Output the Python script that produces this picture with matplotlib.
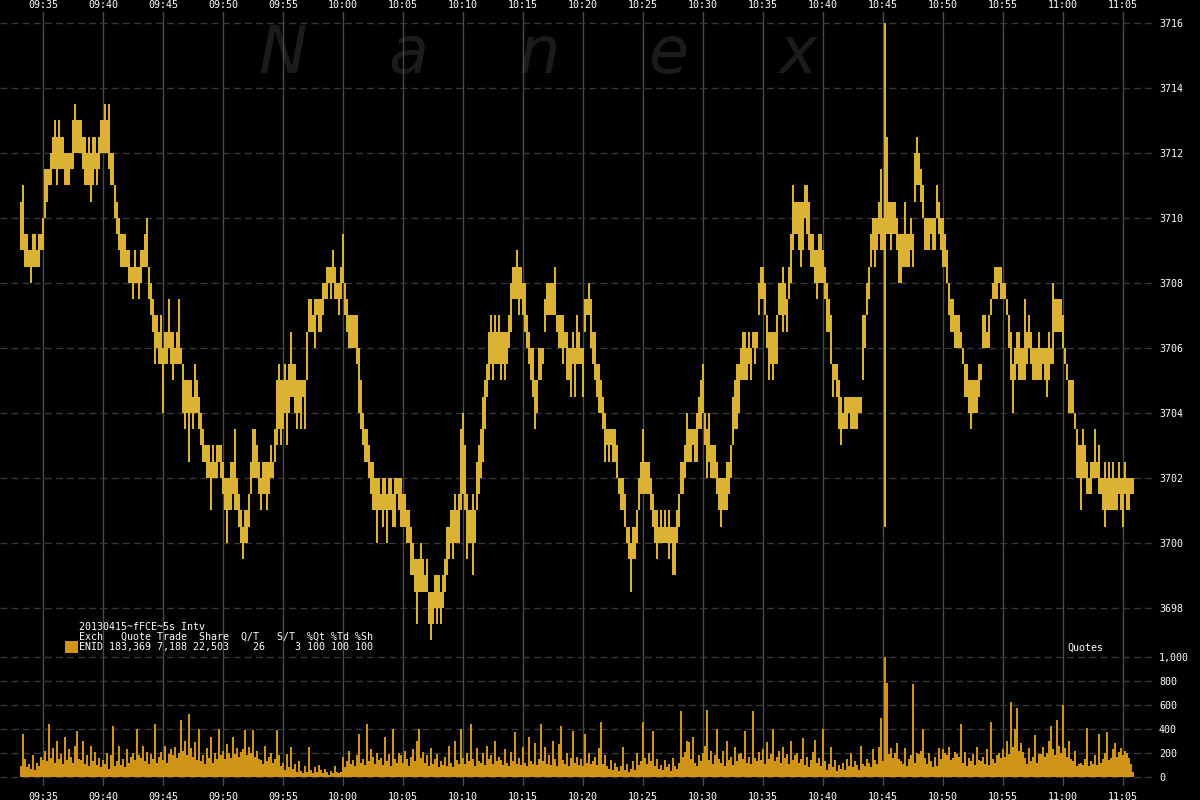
import matplotlib
matplotlib.use("Agg")
import matplotlib.pyplot as plt
from matplotlib.patches import Rectangle
import numpy as np

# ---------------- data (10-second bars starting 09:33:05) ----------------
start_time = "09:33:05"
bar_seconds = 10

price_low = [
    3709, 3709, 3708.5, 3708.5, 3708.5, 3708, 3708.5, 3708.5, 3708.5, 3708.5,
    3709, 3709, 3710, 3710.5, 3711, 3711, 3711.5, 3711.5, 3711, 3711.5,
    3711.5, 3711.5, 3711, 3711, 3711, 3711.5, 3711.5, 3712, 3712, 3712,
    3712, 3711.5, 3711, 3711, 3711, 3710.5, 3711, 3711.5, 3711, 3711.5,
    3712, 3712, 3712, 3712, 3711.5, 3711, 3711, 3710, 3709.5, 3709,
    3708.5, 3708.5, 3708.5, 3708.5, 3708, 3708, 3707.5, 3708, 3708, 3707.5,
    3708, 3708.5, 3708.5, 3708.5, 3707.5, 3707, 3706.5, 3705.5, 3706, 3705.5,
    3705.5, 3704, 3705.5, 3705.5, 3706, 3705.5, 3705, 3705.5, 3705.5, 3705.5,
    3705.5, 3704, 3703.5, 3704, 3702.5, 3704, 3703.5, 3704, 3704, 3703.5,
    3703, 3702.5, 3702.5, 3702, 3702, 3701, 3702, 3702, 3702, 3702.5,
    3702, 3701.5, 3701, 3700, 3701, 3701, 3701.5, 3701, 3701, 3700.5,
    3700, 3699.5, 3700, 3700, 3700.5, 3701.5, 3702, 3702, 3702, 3701.5,
    3701, 3701.5, 3701.5, 3701, 3701.5, 3702, 3702, 3702.5, 3703, 3703.5,
    3703, 3703.5, 3704, 3703, 3704, 3704.5, 3704.5, 3704, 3703.5, 3704,
    3703.5, 3704.5, 3703.5, 3705, 3706.5, 3706.5, 3706.5, 3706, 3707, 3706.5,
    3706.5, 3707, 3707.5, 3707.5, 3708, 3707.5, 3708, 3707.5, 3707.5, 3707,
    3707.5, 3708, 3707, 3706.5, 3706, 3706, 3706, 3706, 3705.5, 3704,
    3703.5, 3703, 3702.5, 3702.5, 3702, 3701.5, 3701, 3701, 3700, 3701,
    3701, 3700.5, 3701, 3700, 3701, 3701, 3700.5, 3700.5, 3701.5, 3701,
    3700.5, 3700.5, 3700.5, 3700, 3700, 3699, 3699, 3698.5, 3697.5, 3698.5,
    3698.5, 3698.5, 3698.5, 3698.5, 3697.5, 3697, 3697.5, 3698, 3697.5, 3698,
    3697.5, 3698, 3698.5, 3699, 3699.5, 3700, 3699.5, 3700, 3700, 3700,
    3701, 3701.5, 3701, 3699.5, 3700, 3700, 3699, 3700, 3701, 3701.5,
    3702, 3702.5, 3703.5, 3704.5, 3705, 3705.5, 3705, 3705.5, 3705.5, 3705.5,
    3705, 3705.5, 3705, 3705.5, 3706, 3706.5, 3707.5, 3707.5, 3707.5, 3707,
    3707.5, 3707, 3706.5, 3706, 3705.5, 3705, 3704.5, 3703.5, 3704, 3705,
    3705, 3705.5, 3706.5, 3707, 3707, 3707, 3707, 3707, 3706.5, 3706,
    3706, 3705.5, 3706, 3705, 3705, 3704.5, 3705.5, 3704.5, 3705.5, 3705.5,
    3705.5, 3704.5, 3706.5, 3707, 3707, 3706, 3705.5, 3705, 3704.5, 3704,
    3704, 3703.5, 3702.5, 3703, 3702.5, 3703, 3702.5, 3702.5, 3702, 3701.5,
    3701, 3701, 3700.5, 3700, 3699.5, 3698.5, 3699.5, 3699.5, 3700, 3701,
    3701.5, 3701.5, 3701.5, 3701.5, 3701.5, 3701, 3700.5, 3700, 3699.5, 3700,
    3700, 3700, 3700, 3700, 3699.5, 3700, 3699, 3699, 3700, 3700.5,
    3701.5, 3701.5, 3702, 3702.5, 3702.5, 3702.5, 3703, 3702.5, 3702.5, 3703.5,
    3703.5, 3704, 3703, 3702, 3702.5, 3702, 3702, 3702, 3701.5, 3701,
    3700.5, 3701, 3701, 3701, 3701.5, 3702, 3703, 3703.5, 3703.5, 3704,
    3705, 3705, 3705, 3705, 3705.5, 3705, 3706, 3705.5, 3706, 3707,
    3707.5, 3707.5, 3707, 3706, 3705, 3705.5, 3705, 3705.5, 3705.5, 3707,
    3707, 3706.5, 3707, 3706.5, 3707.5, 3708, 3709, 3709.5, 3709.5, 3709,
    3708.5, 3709, 3710, 3709.5, 3709, 3708.5, 3708.5, 3708, 3707.5, 3708,
    3708, 3708, 3707.5, 3706.5, 3706.5, 3705.5, 3704.5, 3705, 3704.5, 3703.5,
    3703, 3703.5, 3703.5, 3703.5, 3704, 3703.5, 3703.5, 3703.5, 3703.5, 3704,
    3704, 3705, 3706, 3707, 3707.5, 3708.5, 3709, 3708.5, 3709, 3709.5,
    3709, 3709, 3700.5, 3709.5, 3709.5, 3709, 3709.5, 3709.5, 3709, 3708,
    3708, 3708.5, 3708.5, 3708.5, 3708.5, 3709, 3708.5, 3710.5, 3711, 3711,
    3710.5, 3710, 3709, 3709, 3709, 3709.5, 3709, 3709, 3710, 3709.5,
    3709, 3708.5, 3708.5, 3708, 3707, 3706.5, 3706.5, 3706, 3706, 3706,
    3706, 3705.5, 3704.5, 3704.5, 3704, 3703.5, 3704, 3704, 3704, 3704.5,
    3705, 3706, 3706, 3706, 3706, 3707, 3707.5, 3707.5, 3707.5, 3708,
    3707.5, 3707.5, 3707.5, 3707, 3706, 3705, 3704, 3705, 3705.5, 3705,
    3705, 3705, 3705, 3705.5, 3706, 3705.5, 3705, 3705, 3705, 3705,
    3705, 3705.5, 3705, 3704.5, 3705, 3705.5, 3705.5, 3706.5, 3706.5, 3706.5,
    3706.5, 3706, 3705.5, 3705, 3704, 3704, 3704, 3703.5, 3702, 3702,
    3701, 3702, 3702, 3701.5, 3701.5, 3701.5, 3702, 3702, 3702, 3701.5,
    3701.5, 3701, 3700.5, 3701, 3701, 3701, 3701, 3701, 3701, 3701.5,
    3701, 3700.5, 3701.5, 3701, 3701, 3701.5, 3701.5,
]

price_high = [
    3710.5, 3711, 3709.5, 3709.5, 3709, 3709, 3709.5, 3709.5, 3709, 3709.5,
    3709.5, 3710, 3711.5, 3711.5, 3711.5, 3712, 3712.5, 3713, 3712.5, 3713,
    3712.5, 3712.5, 3712, 3712, 3712, 3712, 3713, 3713.5, 3713, 3713,
    3713, 3712.5, 3712.5, 3712, 3712.5, 3712, 3712.5, 3712.5, 3712, 3712.5,
    3713, 3713, 3713.5, 3713, 3713.5, 3712, 3712, 3711, 3710.5, 3710,
    3709.5, 3709.5, 3709.5, 3709, 3709, 3708.5, 3708.5, 3709, 3708.5, 3708.5,
    3709, 3709, 3709.5, 3710, 3708.5, 3708, 3707.5, 3707, 3707, 3706.5,
    3707, 3706, 3706.5, 3706.5, 3707.5, 3706.5, 3706.5, 3706, 3706.5, 3707.5,
    3706, 3705.5, 3705, 3705, 3705, 3705, 3704.5, 3705.5, 3705, 3704.5,
    3704, 3703.5, 3703, 3703, 3703, 3702.5, 3703, 3702.5, 3703, 3703,
    3703, 3702.5, 3702, 3702, 3702, 3702.5, 3702.5, 3703.5, 3702, 3701.5,
    3701, 3700.5, 3701, 3701, 3701.5, 3702.5, 3703.5, 3703.5, 3703, 3702.5,
    3702, 3702.5, 3702.5, 3702.5, 3702.5, 3703, 3702.5, 3703.5, 3705, 3705.5,
    3705, 3705, 3705.5, 3705, 3705.5, 3706.5, 3705.5, 3705.5, 3705, 3705,
    3705, 3705, 3705, 3706.5, 3707.5, 3707.5, 3707, 3707.5, 3707.5, 3707.5,
    3707.5, 3708, 3708, 3708.5, 3708.5, 3708.5, 3709, 3708.5, 3708, 3708,
    3708.5, 3709.5, 3708, 3707.5, 3707, 3707, 3707, 3707, 3707, 3706,
    3705, 3704, 3703.5, 3703.5, 3703, 3702.5, 3702.5, 3702, 3702, 3702,
    3701.5, 3702, 3702, 3701.5, 3702, 3702, 3701.5, 3702, 3702, 3702,
    3702, 3701.5, 3701.5, 3701, 3701, 3700.5, 3700, 3699.5, 3699.5, 3699.5,
    3700, 3699.5, 3699, 3699.5, 3698.5, 3698.5, 3698.5, 3699, 3699, 3699,
    3698.5, 3699, 3699.5, 3700.5, 3700.5, 3701, 3701, 3701.5, 3701, 3701.5,
    3703.5, 3704, 3703, 3701.5, 3701, 3701, 3701.5, 3701, 3702.5, 3703,
    3703.5, 3704.5, 3705, 3705.5, 3706.5, 3707, 3706.5, 3707, 3706.5, 3707,
    3706.5, 3706.5, 3706.5, 3706.5, 3707, 3708, 3708.5, 3708.5, 3709, 3708.5,
    3708.5, 3708, 3708, 3707, 3706.5, 3706, 3706, 3705, 3705, 3706,
    3706, 3706, 3707.5, 3708, 3708, 3708, 3708, 3708.5, 3707, 3707,
    3707, 3707, 3706.5, 3706.5, 3706, 3706, 3706.5, 3706, 3707, 3706.5,
    3706, 3706, 3707.5, 3707.5, 3708, 3707.5, 3706.5, 3706.5, 3705.5, 3705.5,
    3705, 3704.5, 3704, 3703.5, 3703.5, 3703.5, 3703.5, 3703.5, 3703, 3702,
    3702, 3702, 3701.5, 3700.5, 3700.5, 3700, 3700.5, 3700.5, 3701, 3702,
    3702.5, 3703.5, 3702.5, 3702.5, 3702.5, 3702, 3701.5, 3701, 3701, 3700.5,
    3701, 3700.5, 3701, 3700.5, 3701, 3700.5, 3700.5, 3700.5, 3701, 3701.5,
    3702.5, 3702.5, 3703, 3704, 3703.5, 3703.5, 3703.5, 3703.5, 3704, 3704.5,
    3705, 3705.5, 3704, 3703.5, 3704, 3703, 3703, 3703, 3702.5, 3702,
    3702, 3702, 3702, 3702.5, 3702.5, 3703, 3704.5, 3705, 3705.5, 3705.5,
    3706, 3706.5, 3706.5, 3706, 3706.5, 3706, 3706.5, 3706.5, 3706.5, 3708,
    3708.5, 3708.5, 3708, 3707, 3706.5, 3706.5, 3706.5, 3706.5, 3707, 3708,
    3708, 3708.5, 3708, 3707.5, 3708.5, 3709.5, 3711, 3710.5, 3710.5, 3710.5,
    3710.5, 3710.5, 3711, 3711, 3710.5, 3709.5, 3709.5, 3709, 3709, 3709.5,
    3709.5, 3709, 3708.5, 3708, 3707.5, 3707, 3705.5, 3705.5, 3705.5, 3705,
    3704.5, 3704, 3704.5, 3704.5, 3704.5, 3704.5, 3704.5, 3704.5, 3704.5, 3704.5,
    3704.5, 3707, 3707, 3708, 3708.5, 3709.5, 3710, 3710, 3710, 3710.5,
    3711.5, 3710, 3716, 3712.5, 3710.5, 3710.5, 3710.5, 3710.5, 3710, 3709.5,
    3709.5, 3709.5, 3710.5, 3709.5, 3709.5, 3710, 3709.5, 3712, 3712.5, 3712,
    3711.5, 3711, 3710, 3710, 3710, 3710, 3710, 3710, 3711, 3710.5,
    3710, 3710, 3709.5, 3709, 3708, 3707.5, 3707.5, 3707, 3707, 3707,
    3706.5, 3706, 3705.5, 3705.5, 3705, 3705, 3705, 3705, 3705, 3705.5,
    3705.5, 3707, 3707, 3706.5, 3707, 3707.5, 3708, 3708.5, 3708.5, 3708.5,
    3708.5, 3708, 3708, 3707.5, 3707, 3706.5, 3705.5, 3706, 3706.5, 3706.5,
    3706, 3706, 3707.5, 3706.5, 3707, 3706.5, 3706, 3706, 3706, 3706.5,
    3706, 3706, 3706, 3706, 3706.5, 3706, 3708, 3707.5, 3707.5, 3707.5,
    3707.5, 3707, 3706, 3705.5, 3705, 3705, 3705, 3704, 3703.5, 3703,
    3703, 3703.5, 3703, 3702.5, 3702, 3702.5, 3702.5, 3703.5, 3702.5, 3703,
    3702, 3702, 3702.5, 3702, 3702.5, 3702, 3702.5, 3702, 3702, 3702.5,
    3702, 3702, 3702.5, 3702, 3702, 3702, 3702,
]

quotes = [
    90, 360, 150, 80, 110, 70, 180, 60, 120, 90,
    170, 140, 220, 130, 440, 160, 240, 120, 300, 150,
    190, 110, 330, 140, 230, 170, 120, 260, 380, 150,
    140, 300, 110, 180, 90, 260, 130, 210, 100, 160,
    80, 140, 110, 200, 70, 180, 420, 90, 130, 260,
    100, 150, 80, 230, 120, 170, 200, 140, 400, 180,
    160, 260, 130, 210, 110, 190, 150, 440, 120, 170,
    210, 140, 260, 120, 190, 230, 180, 250, 160, 200,
    470, 220, 300, 180, 520, 240, 170, 290, 140, 400,
    130, 180, 110, 240, 160, 330, 120, 200, 150, 400,
    180, 220, 150, 270, 200, 160, 330, 190, 240, 170,
    210, 230, 390, 180, 250, 200, 390, 170, 220, 150,
    140, 110, 260, 130, 170, 200, 120, 150, 390, 180,
    90, 120, 60, 190, 80, 250, 70, 110, 40, 130,
    50, 30, 90, 40, 250, 60, 30, 80, 40, 100,
    60, 30, 70, 40, 20, 50, 30, 90, 40, 30,
    40, 170, 80, 130, 220, 110, 140, 90, 180, 360,
    120, 150, 100, 440, 130, 230, 170, 110, 200, 140,
    160, 100, 330, 130, 190, 90, 400, 150, 120, 200,
    180, 120, 220, 150, 90, 170, 230, 130, 300, 400,
    160, 210, 120, 180, 90, 240, 110, 150, 190, 80,
    130, 100, 170, 90, 260, 120, 80, 300, 140, 110,
    400, 160, 110, 200, 130, 440, 150, 90, 240, 130,
    120, 200, 100, 260, 150, 180, 110, 300, 130, 170,
    140, 100, 230, 120, 90, 210, 130, 370, 110, 160,
    100, 250, 120, 90, 330, 130, 110, 280, 100, 150,
    440, 130, 250, 110, 180, 100, 300, 150, 90, 270,
    420, 140, 110, 200, 90, 160, 380, 120, 170, 100,
    150, 90, 360, 120, 200, 110, 130, 170, 100, 240,
    460, 110, 180, 90, 70, 140, 60, 120, 80, 50,
    90, 250, 60, 110, 40, 70, 130, 60, 200, 100,
    130, 460, 160, 110, 200, 130, 380, 90, 150, 70,
    100, 60, 140, 80, 110, 50, 160, 90, 70, 120,
    545, 170, 210, 300, 290, 150, 330, 120, 90, 180,
    130, 200, 260, 560, 140, 220, 110, 180, 400, 150,
    120, 220, 90, 300, 140, 170, 100, 250, 130, 190,
    200, 150, 380, 120, 170, 110, 545, 160, 130, 210,
    140, 230, 110, 290, 150, 190, 400, 130, 170, 220,
    120, 250, 160, 190, 110, 300, 140, 180, 200, 120,
    150, 320, 100, 170, 80, 140, 210, 310, 120, 160,
    90, 400, 130, 60, 110, 250, 80, 140, 50, 100,
    70, 120, 60, 150, 90, 200, 80, 130, 100, 60,
    260, 110, 90, 150, 120, 80, 230, 140, 110, 250,
    490, 130, 1000, 780, 190, 240, 160, 200, 280, 150,
    130, 110, 240, 90, 150, 180, 770, 120, 200, 190,
    220, 400, 160, 110, 200, 130, 80, 170, 90, 240,
    150, 230, 200, 180, 250, 140, 160, 210, 190, 170,
    440, 120, 210, 90, 160, 130, 190, 100, 250, 140,
    130, 170, 110, 230, 100, 460, 150, 120, 180, 200,
    160, 230, 170, 300, 190, 620, 250, 400, 570, 220,
    280, 210, 160, 110, 240, 130, 170, 350, 120, 190,
    190, 250, 170, 200, 300, 420, 230, 180, 470, 260,
    200, 600, 240, 170, 300, 150, 130, 220, 90, 110,
    120, 100, 150, 410, 90, 130, 110, 180, 100, 360,
    120, 150, 200, 370, 140, 160, 230, 280, 170, 210,
    240, 180, 220, 200, 160, 110, 40,
]

time_tick_labels = ["09:35", "09:40", "09:45", "09:50", "09:55", "10:00", "10:05",
                    "10:10", "10:15", "10:20", "10:25", "10:30", "10:35", "10:40",
                    "10:45", "10:50", "10:55", "11:00", "11:05"]
price_ticks = [3698, 3700, 3702, 3704, 3706, 3708, 3710, 3712, 3714, 3716]
quote_ticks = [0, 200, 400, 600, 800, 1000]
quote_tick_labels = ["0", "200", "400", "600", "800", "1,000"]

title_line = "20130415~fFCE~5s Intv"
header_line = "Exch   Quote Trade  Share  Q/T   S/T  %Qt %Td %Sh"
row_line = "ENID 183,369 7,188 22,503    26     3 100 100 100"
watermark_letters = ["N", "a", "n", "e", "x"]

# ---------------- styling ----------------
PRICE_COLOR = "#DBB233"
VOL_COLOR = "#D09418"
VGRID = "#4b4b4b"
HGRID = "#383838"
WM_COLOR = "#1b1b1b"
MONO = "DejaVu Sans Mono"
FS = 7.2

plt.rcParams["font.family"] = MONO


def to_minutes(s):
    parts = [int(p) for p in s.split(":")]
    m = (parts[0] - 9) * 60 + parts[1]
    if len(parts) > 2:
        m += parts[2] / 60.0
    return m


W, H = 1200, 800


def rect(x0, y0, x1, y1):
    return [x0 / W, 1 - y1 / H, (x1 - x0) / W, (y1 - y0) / H]


fig = plt.figure(figsize=(12, 8), dpi=100, facecolor="black")
axp = fig.add_axes(rect(0, 12, 1152, 645))
axv = fig.add_axes(rect(0, 645, 1152, 786), sharex=axp)

t0 = to_minutes(start_time)
step = bar_seconds / 60.0
n = len(price_low)
times = t0 + np.arange(n) * step
lo = np.array(price_low, dtype=float)
hi = np.array(price_high, dtype=float)
vol = np.array(quotes, dtype=float)

# x range: pixel 0 -> 09:31:25, pixel 1152 -> 11:06:25 (12 px per minute)
xmin = to_minutes("09:35") - 43 / 12.0
xmax = xmin + 1152 / 12.0

# watermark (behind everything)
wm_x = [283, 408, 539, 669, 798]
for letter, px in zip(watermark_letters, wm_x):
    fig.text(px / W, 1 - 73 / H, letter, color=WM_COLOR, fontsize=47,
             family="DejaVu Sans", style="italic", ha="center", va="baseline",
             zorder=-5)

tick_pos = [to_minutes(s) for s in time_tick_labels]

for ax in (axp, axv):
    ax.set_facecolor("none")
    for sp in ax.spines.values():
        sp.set_visible(False)
    ax.set_xlim(xmin, xmax)
    ax.set_xticks(tick_pos)
    ax.set_xticklabels(time_tick_labels)
    ax.xaxis.grid(True, color=VGRID, lw=1.0, ls="-")
    ax.yaxis.grid(True, color=HGRID, lw=1.0, ls=(0, (5, 3)))
    ax.set_axisbelow(True)
    ax.yaxis.tick_right()
    ax.tick_params(axis="y", length=0, pad=5, labelcolor="white", labelsize=FS)

# price panel
axp.bar(times, hi - lo, bottom=lo, width=step, align="edge",
        color=PRICE_COLOR, linewidth=0, zorder=3)
p_top = 3716 + 11 / 32.5
p_bot = 3716 - (645 - 23) / 32.5
axp.set_ylim(p_bot, p_top)
axp.set_yticks(price_ticks)
axp.set_yticklabels([str(v) for v in price_ticks])
axp.xaxis.set_ticks_position("top")
axp.tick_params(axis="x", length=0, pad=1.5, labelcolor="white", labelsize=FS,
                labeltop=True, labelbottom=False)

# volume panel
axv.bar(times, vol, width=step, align="edge", color=VOL_COLOR, linewidth=0, zorder=3)
per_px = 100 / 12.04
axv.set_ylim(-9 * per_px, (777 - 645) * per_px)
axv.set_yticks(quote_ticks)
axv.set_yticklabels(quote_tick_labels)
axv.tick_params(axis="x", length=0, pad=4.5, labelcolor="white", labelsize=FS,
                labelbottom=True, labeltop=False)

# legend block
for txt, py in ((title_line, 627), (header_line, 637), (row_line, 647)):
    fig.text(79 / W, 1 - py / H, txt, color="white", fontsize=FS, family=MONO,
             ha="left", va="center")
fig.patches.append(Rectangle((65 / W, 1 - 653 / H), 13 / W, 12 / H,
                             transform=fig.transFigure, facecolor=VOL_COLOR,
                             edgecolor="none"))
fig.text(1067 / W, 1 - 648 / H, "Quotes", color="white", fontsize=FS, family=MONO,
         ha="left", va="center")

fig.savefig("out.png", dpi=100, facecolor="black")
